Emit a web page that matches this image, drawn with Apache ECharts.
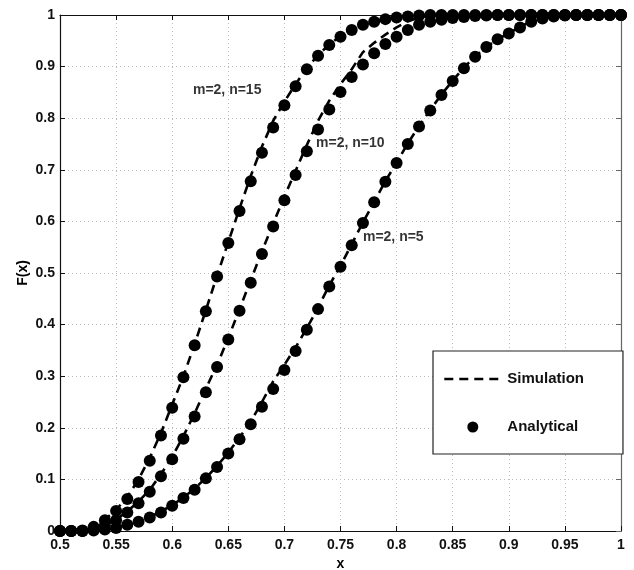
<!DOCTYPE html>
<html>
<head>
<meta charset="utf-8">
<script src="https://cdn.jsdelivr.net/npm/echarts@6/dist/echarts.min.js"></script>
<style>
html,body{margin:0;padding:0;background:#fff;}
#chart{width:634px;height:570px;}
</style>
</head>
<body>
<div id="chart"></div>
<script>
// x values
var xs = [0.50,0.51,0.52,0.53,0.54,0.55,0.56,0.57,0.58,0.59,
          0.60,0.61,0.62,0.63,0.64,0.65,0.66,0.67,0.68,0.69,
          0.70,0.71,0.72,0.73,0.74,0.75,0.76,0.77,0.78,0.79,
          0.80,0.81,0.82,0.83,0.84,0.85,0.86,0.87,0.88,0.89,
          0.90,0.91,0.92,0.93,0.94,0.95,0.96,0.97,0.98,0.99,1.00];

// Analytical F(x)
var anaN15 = [0,0,0.001,0.008,0.021,0.039,0.062,0.095,0.136,0.185,
              0.239,0.298,0.360,0.426,0.493,0.558,0.620,0.678,0.733,0.782,
              0.825,0.862,0.895,0.921,0.942,0.958,0.971,0.981,0.987,0.992,
              0.995,0.997,0.999,1,1,1,1,1,1,1,
              1,1,1,1,1,1,1,1,1,1,1];
var anaN10 = [0,0,0,0.004,0.010,0.021,0.036,0.054,0.076,0.106,
              0.139,0.179,0.222,0.269,0.318,0.371,0.427,0.481,0.537,0.590,
              0.641,0.690,0.736,0.778,0.817,0.851,0.880,0.904,0.926,0.944,
              0.958,0.971,0.981,0.987,0.991,0.994,0.996,0.998,0.999,1,
              1,1,1,1,1,1,1,1,1,1,1];
var anaN5  = [0,0,0,0.001,0.003,0.006,0.012,0.018,0.026,0.036,
              0.049,0.064,0.080,0.102,0.124,0.150,0.178,0.207,0.241,0.275,
              0.312,0.349,0.390,0.430,0.474,0.512,0.554,0.597,0.637,0.677,
              0.713,0.750,0.784,0.815,0.845,0.872,0.897,0.919,0.938,0.953,
              0.964,0.976,0.987,0.993,0.997,0.999,1,1,1,1,1];

// Simulation F(x)
var simN15 = [0,0,0.002,0.009,0.022,0.041,0.066,0.100,0.142,0.190,
              0.245,0.300,0.362,0.428,0.495,0.560,0.625,0.688,0.745,0.795,
              0.832,0.866,0.897,0.922,0.943,0.959,0.972,0.982,0.988,0.993,
              0.996,0.998,1,1,1,1,1,1,1,1,
              1,1,1,1,1,1,1,1,1,1,1];
var simN10 = [0,0,0,0.004,0.011,0.022,0.038,0.057,0.080,0.110,
              0.144,0.184,0.228,0.276,0.322,0.374,0.430,0.486,0.542,0.596,
              0.648,0.698,0.748,0.795,0.834,0.866,0.895,0.928,0.946,0.962,
              0.976,0.988,0.995,0.999,1,1,1,1,1,1,
              1,1,1,1,1,1,1,1,1,1,1];
var simN5  = [0,0,0,0.001,0.003,0.007,0.012,0.019,0.027,0.038,
              0.050,0.065,0.082,0.103,0.126,0.152,0.181,0.212,0.250,0.290,
              0.322,0.356,0.393,0.433,0.476,0.514,0.556,0.598,0.638,0.678,
              0.714,0.751,0.785,0.816,0.846,0.873,0.898,0.920,0.938,0.953,
              0.965,0.977,0.988,0.994,0.997,0.999,1,1,1,1,1];

// annotation labels
var annoText = ['m=2, n=15', 'm=2, n=10', 'm=2, n=5'];
var annoX = [0.6185, 0.7282, 0.7700];
var annoY = [0.855, 0.752, 0.570];

var xTicks = {min: 0.5, max: 1, interval: 0.05};
var yTicks = {min: 0, max: 1, interval: 0.1};

function pairs(ys) { return xs.map(function (x, i) { return [x, ys[i]]; }); }

var FONT = 'Liberation Sans, Arial, Helvetica, sans-serif';
var chart = echarts.init(document.getElementById('chart'), null, {renderer: 'canvas'});

function simSeries(ys) {
  return {
    name: 'Simulation', type: 'line', data: pairs(ys),
    xAxisIndex: 0, yAxisIndex: 0,
    symbol: 'none', smooth: false, silent: true,
    lineStyle: {color: '#000', width: 2.6, type: [9, 6]},
    itemStyle: {color: '#000'},
    z: 3
  };
}
function anaSeries(ys) {
  return {
    name: 'Analytical', type: 'scatter', data: pairs(ys),
    xAxisIndex: 0, yAxisIndex: 0,
    symbol: 'circle', symbolSize: 12, silent: true,
    itemStyle: {color: '#000', opacity: 1},
    z: 2
  };
}

var annoData = annoText.map(function (t, i) {
  return {value: [annoX[i], annoY[i]], label: {formatter: t}};
});

var option = {
  backgroundColor: '#fff',
  animation: false,
  textStyle: {fontFamily: FONT},
  grid: {left: 60, top: 15, width: 561, height: 516, show: false, containLabel: false, outerBoundsMode: 'none'},
  xAxis: [{
    type: 'value', min: xTicks.min, max: xTicks.max, interval: xTicks.interval,
    name: 'x', nameLocation: 'middle', nameGap: 26, nameMoveOverlap: false,
    nameTextStyle: {fontFamily: FONT, fontWeight: 'bold', fontSize: 14, color: '#000'},
    axisLine: {show: true, lineStyle: {color: '#111', width: 1.2}},
    axisTick: {show: true, inside: true, length: 5, lineStyle: {color: '#111'}},
    axisLabel: {fontFamily: FONT, fontWeight: 'bold', fontSize: 14, color: '#111', margin: 7},
    splitLine: {show: true, lineStyle: {color: '#bdbdbd', width: 1, type: [1, 3]}}
  }, {
    type: 'value', position: 'top', min: xTicks.min, max: xTicks.max, interval: xTicks.interval,
    axisLine: {show: true, onZero: false, lineStyle: {color: '#111', width: 1.2}},
    axisTick: {show: true, inside: true, length: 5, lineStyle: {color: '#111'}},
    axisLabel: {show: false}, splitLine: {show: false}
  }],
  yAxis: [{
    type: 'value', min: yTicks.min, max: yTicks.max, interval: yTicks.interval,
    name: 'F(x)', nameLocation: 'middle', nameGap: 30, nameRotate: 90, nameMoveOverlap: false,
    nameTextStyle: {fontFamily: FONT, fontWeight: 'bold', fontSize: 14, color: '#000'},
    axisLine: {show: true, lineStyle: {color: '#111', width: 1.2}},
    axisTick: {show: true, inside: true, length: 5, lineStyle: {color: '#111'}},
    axisLabel: {fontFamily: FONT, fontWeight: 'bold', fontSize: 14, color: '#111', margin: 5},
    splitLine: {show: true, lineStyle: {color: '#bdbdbd', width: 1, type: [1, 3]}}
  }, {
    type: 'value', position: 'right', min: yTicks.min, max: yTicks.max, interval: yTicks.interval,
    axisLine: {show: true, onZero: false, lineStyle: {color: '#666', width: 1.2}},
    axisTick: {show: true, inside: true, length: 5, lineStyle: {color: '#666'}},
    axisLabel: {show: false}, splitLine: {show: false}
  }],
  legend: {
    show: true, orient: 'vertical', left: 433, top: 351,
    padding: [20, 39, 19, 10],
    itemWidth: 57, itemHeight: 11, itemGap: 32,
    backgroundColor: '#fff', borderColor: '#222', borderWidth: 1.2,
    selectedMode: false,
    textStyle: {fontFamily: FONT, fontWeight: 'bold', fontSize: 15, color: '#111', lineHeight: 16, padding: [0, 0, 0, 1]},
    data: [
      {name: 'Simulation', itemStyle: {opacity: 0}, lineStyle: {color: '#000', width: 2.6, type: [9, 6], opacity: 1}},
      {name: 'Analytical', icon: 'circle'}
    ]
  },
  series: [
    anaSeries(anaN15), anaSeries(anaN10), anaSeries(anaN5),
    simSeries(simN15), simSeries(simN10), simSeries(simN5),
    {
      name: 'labels', type: 'scatter', data: annoData,
      symbolSize: 0, silent: true, z: 5,
      label: {show: true, position: 'right', distance: 0,
              fontFamily: FONT, fontWeight: 'bold', fontSize: 14, color: '#000'}
    }
  ]
};
chart.setOption(option);
</script>
</body>
</html>
